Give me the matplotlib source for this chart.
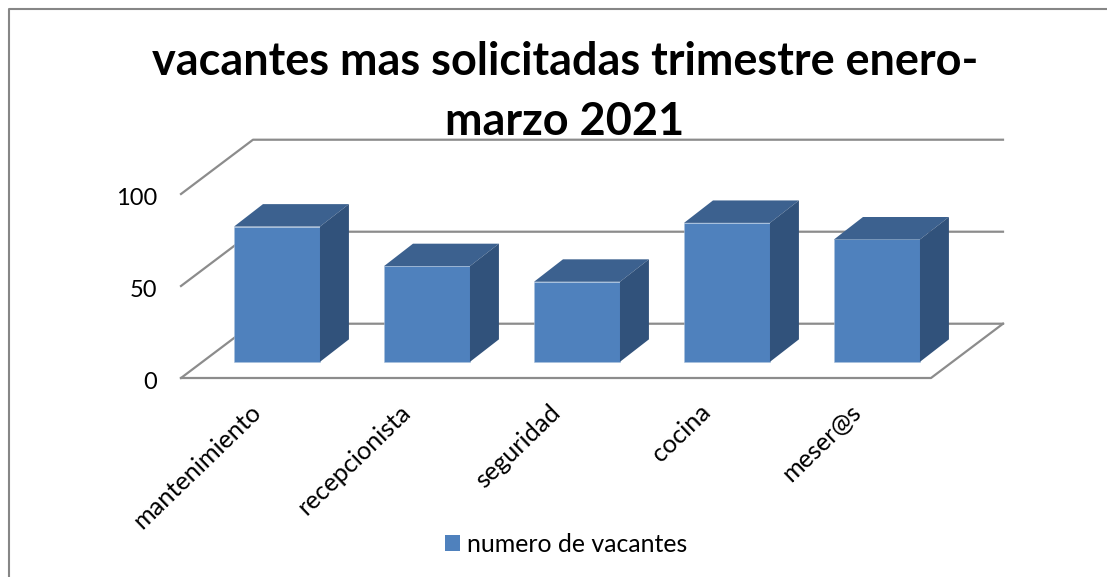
import matplotlib
matplotlib.use("Agg")
import matplotlib.pyplot as plt
from matplotlib.lines import Line2D
from matplotlib.patches import Polygon, Rectangle

categories = ["mantenimiento", "recepcionista", "seguridad", "cocina", "meser@s"]
values = [73.5, 52, 43.5, 75.5, 66.5]
y_ticks = [0, 50, 100]
series_name = "numero de vacantes"
title = "vacantes mas solicitadas trimestre enero-\nmarzo 2021"

W, H = 1107, 577
FRONT = "#4f81bd"
TOP = "#3c618f"
SIDE = "#31527b"
EDGE = "#a9c1de"
GRID = "#8c8c8c"

plt.rcParams["font.family"] = ["Lato", "DejaVu Sans"]

fig = plt.figure(figsize=(W / 100, H / 100), dpi=100)
fig.patch.set_facecolor("white")

# border of the chart area, only left and top are in the picture
fig.add_artist(Line2D([9 / W, 9 / W, 1], [0, 1 - 8.5 / H, 1 - 8.5 / H], transform=fig.transFigure,
                      color="#868686", linewidth=1.5))

ax = fig.add_axes([181 / W, 1 - 378 / H, 750 / W, 184 / H])
ax.set_xlim(-0.5, len(categories) - 0.5)
ax.set_ylim(0, 100)
ax.axis("off")

# depth of the floor and of the bars, in data units
floor_dx, floor_dy = 0.48, 29.5
bar_dx, bar_dy = 0.193, 12.2
shift_x, shift_y = 0.14, 8.8
bar_w = 0.573

x0, x1 = -0.5, len(categories) - 0.5
for t in y_ticks:
    ax.plot([x0, x0 + floor_dx, x1 + floor_dx], [t, t + floor_dy, t + floor_dy],
            color=GRID, lw=1.6, clip_on=False, zorder=1)
    ax.annotate(str(t), xy=(x0, t), xytext=(-17, -3), textcoords="offset points",
                ha="right", va="center", fontsize=17, color="black", annotation_clip=False)
ax.plot([x0, x1, x1 + floor_dx], [0, 0, floor_dy], color=GRID, lw=1.6, clip_on=False, zorder=1)

for i, v in enumerate(values):
    left = i + shift_x - bar_w / 2
    right = left + bar_w
    base = shift_y
    top = shift_y + v
    ax.bar(left, v, width=bar_w, bottom=base, align="edge", color=FRONT, edgecolor=EDGE,
           linewidth=0.4, zorder=3, clip_on=False)
    ax.add_patch(Polygon([(left, top), (right, top), (right + bar_dx, top + bar_dy),
                          (left + bar_dx, top + bar_dy)], closed=True, facecolor=TOP,
                         edgecolor="none", zorder=3, clip_on=False))
    ax.add_patch(Polygon([(right, base), (right, top), (right + bar_dx, top + bar_dy),
                          (right + bar_dx, base + bar_dy)], closed=True, facecolor=SIDE,
                         edgecolor="none", zorder=3, clip_on=False))
    ax.annotate(categories[i], xy=(i, 0), xytext=(-5, -16), textcoords="offset points",
                rotation=44, rotation_mode="anchor", ha="right", va="top",
                fontsize=18.2, color="black", annotation_clip=False)

fig.text(565 / W, 1 - 92 / H, title, ha="center", va="center", fontsize=32.4, fontweight="bold",
         color="black", linespacing=1.53)

handle = Rectangle((0, 0), 1, 1, facecolor=FRONT)
fig.legend([handle], [series_name], loc="center", bbox_to_anchor=(566 / W, 1 - 544 / H),
           frameon=False, fontsize=17.9, handlelength=0.6, handleheight=0.6, handletextpad=0.3)

fig.savefig("out.png", dpi=100)
